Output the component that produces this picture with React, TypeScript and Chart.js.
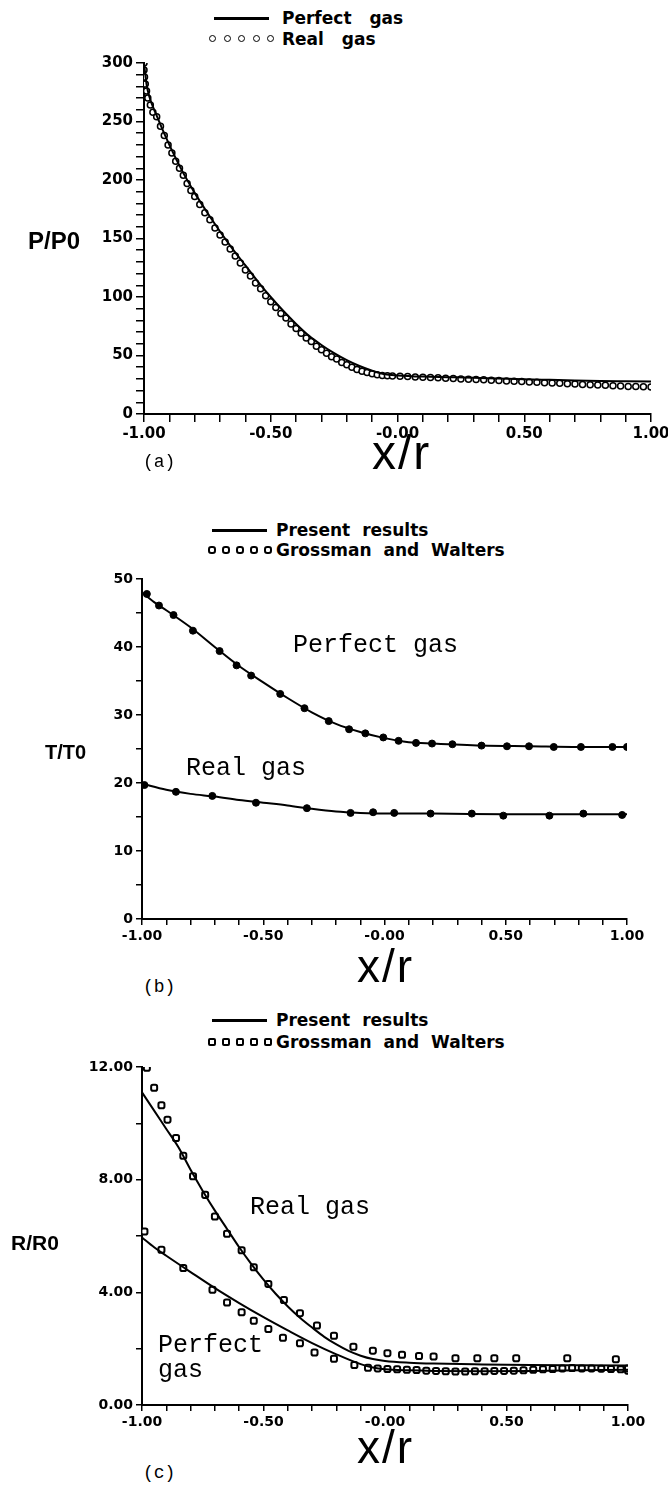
import React, { useEffect, useRef } from "react";
import { Chart, registerables } from "chart.js";

Chart.register(...registerables);

// Shared x axis labels (x/r from -1 to 1)
const xTickLabels = ["-1.00", "-0.50", "-0.00", "0.50", "1.00"];

// (a) Pressure ratio P/P0
const pTickLabels = ["0", "50", "100", "150", "200", "250", "300"];
const pPerfectX = [-1.0, -0.99, -0.98, -0.95, -0.9, -0.85, -0.8, -0.75, -0.7, -0.65, -0.6, -0.55, -0.5, -0.45, -0.4, -0.35, -0.3, -0.25, -0.2, -0.15, -0.1, -0.05, 0.0, 0.1, 0.2, 0.3, 0.4, 0.5, 0.6, 0.7, 0.8, 0.9, 1.0];
const pPerfectY = [300, 282, 272, 255, 230, 208, 189, 172, 156, 141, 127, 113, 100, 88, 77, 67, 59, 52, 46, 41, 37, 34, 33, 32, 31.5, 31, 30.3, 29.7, 29.2, 28.7, 28.3, 28, 27.7];
const pRealX = [-1.0, -1.0, -0.998, -0.995, -0.99, -0.985, -0.975, -0.965, -0.95, -0.935, -0.92, -0.905, -0.89, -0.875, -0.86, -0.845, -0.83, -0.815, -0.8, -0.78, -0.76, -0.74, -0.72, -0.7, -0.68, -0.66, -0.64, -0.62, -0.6, -0.58, -0.56, -0.54, -0.52, -0.5, -0.48, -0.46, -0.44, -0.42, -0.4, -0.38, -0.36, -0.34, -0.32, -0.3, -0.28, -0.26, -0.24, -0.22, -0.2, -0.18, -0.16, -0.14, -0.12, -0.1, -0.08, -0.06, -0.04, -0.02, 0.01, 0.04, 0.07, 0.1, 0.13, 0.16, 0.19, 0.22, 0.25, 0.28, 0.31, 0.34, 0.37, 0.4, 0.43, 0.46, 0.49, 0.52, 0.55, 0.58, 0.61, 0.64, 0.67, 0.7, 0.73, 0.76, 0.79, 0.82, 0.85, 0.88, 0.91, 0.94, 0.97, 1.0];
const pRealY = [300, 294, 288, 282, 276, 270, 264, 258, 254, 246, 238, 230, 223, 216, 210, 204, 197, 191, 186, 179, 172, 166, 159, 153, 147, 141, 135, 129, 123, 118, 112, 107, 101, 96, 91, 86, 82, 77, 73, 69, 65, 62, 58, 55, 52, 49, 47, 44, 42, 40, 38, 36.5, 35.5, 34.5, 33.5, 33, 32.6, 32.4, 32.2, 32, 31.7, 31.4, 31.2, 30.9, 30.6, 30.3, 30, 29.8, 29.5, 29.2, 28.9, 28.6, 28.3, 28, 27.8, 27.4, 27.1, 26.8, 26.5, 26.3, 25.9, 25.6, 25.3, 25, 24.7, 24.5, 24.2, 23.9, 23.6, 23.4, 23.2, 23];

// (b) Temperature ratio T/T0
const tTickLabels = ["0", "10", "20", "30", "40", "50"];
const tPerfectLineX = [-1.0, -0.95, -0.9, -0.8, -0.7, -0.6, -0.5, -0.4, -0.3, -0.2, -0.1, 0.0, 0.1, 0.2, 0.4, 0.6, 0.8, 1.0];
const tPerfectLineY = [48.0, 46.6, 45.4, 42.9, 40.0, 37.2, 34.8, 32.5, 30.4, 28.7, 27.5, 26.6, 26.0, 25.8, 25.5, 25.4, 25.3, 25.3];
const tPerfectRefX = [-0.98, -0.93, -0.87, -0.79, -0.68, -0.61, -0.55, -0.43, -0.33, -0.23, -0.146, -0.079, -0.005, 0.058, 0.13, 0.196, 0.28, 0.4, 0.505, 0.596, 0.698, 0.81, 0.94, 1.0];
const tPerfectRefY = [47.8, 46.1, 44.7, 42.4, 39.4, 37.3, 35.8, 33.1, 31.0, 29.1, 27.9, 27.3, 26.7, 26.2, 25.9, 25.8, 25.7, 25.5, 25.4, 25.4, 25.3, 25.3, 25.3, 25.3];
const tRealLineX = [-1.0, -0.9, -0.8, -0.7, -0.6, -0.5, -0.4, -0.3, -0.2, -0.1, 0.0, 0.2, 0.5, 0.8, 1.0];
const tRealLineY = [19.9, 19.0, 18.4, 18.0, 17.5, 17.1, 16.7, 16.2, 15.8, 15.6, 15.5, 15.5, 15.4, 15.4, 15.4];
const tRealRefX = [-0.99, -0.86, -0.71, -0.53, -0.32, -0.14, -0.047, 0.04, 0.19, 0.36, 0.49, 0.68, 0.82, 0.98];
const tRealRefY = [19.7, 18.7, 18.1, 17.1, 16.3, 15.6, 15.7, 15.6, 15.5, 15.5, 15.2, 15.2, 15.5, 15.3];

// (c) Density ratio R/R0
const rTickLabels = ["0.00", "4.00", "8.00", "12.00"];
const rRealLineX = [-1.0, -0.95, -0.9, -0.85, -0.8, -0.75, -0.7, -0.65, -0.6, -0.55, -0.5, -0.45, -0.4, -0.35, -0.3, -0.25, -0.2, -0.15, -0.1, -0.05, 0.0, 0.1, 0.2, 0.4, 0.6, 0.8, 1.0];
const rRealLineY = [11.1, 10.45, 9.8, 9.15, 8.35, 7.6, 6.9, 6.25, 5.6, 5.0, 4.45, 3.95, 3.5, 3.1, 2.75, 2.42, 2.15, 1.92, 1.75, 1.63, 1.56, 1.5, 1.47, 1.44, 1.42, 1.41, 1.4];
const rRealRefX = [-0.98, -0.95, -0.92, -0.895, -0.86, -0.83, -0.79, -0.74, -0.7, -0.65, -0.59, -0.54, -0.48, -0.416, -0.35, -0.28, -0.21, -0.13, -0.05, 0.01, 0.07, 0.14, 0.2, 0.29, 0.38, 0.45, 0.54, 0.75, 0.95, 1.0];
const rRealRefY = [11.97, 11.26, 10.64, 10.13, 9.48, 8.85, 8.12, 7.46, 6.69, 6.08, 5.49, 4.89, 4.3, 3.73, 3.26, 2.82, 2.46, 2.07, 1.93, 1.84, 1.78, 1.74, 1.72, 1.66, 1.66, 1.66, 1.66, 1.66, 1.62, 1.3];
const rPerfectLineX = [-1.0, -0.95, -0.9, -0.8, -0.7, -0.6, -0.5, -0.4, -0.3, -0.2, -0.1, -0.05, 0.0, 0.1, 0.2, 0.4, 0.6, 0.8, 1.0];
const rPerfectLineY = [5.95, 5.6, 5.3, 4.72, 4.15, 3.62, 3.12, 2.65, 2.2, 1.8, 1.45, 1.33, 1.27, 1.23, 1.21, 1.2, 1.21, 1.23, 1.25];
const rPerfectRefX = [-0.99, -0.92, -0.83, -0.71, -0.65, -0.59, -0.54, -0.48, -0.42, -0.35, -0.29, -0.21, -0.126, -0.07, -0.03, 0.01, 0.05, 0.09, 0.13, 0.17, 0.21, 0.25, 0.29, 0.33, 0.37, 0.41, 0.45, 0.49, 0.53, 0.57, 0.61, 0.65, 0.69, 0.73, 0.77, 0.81, 0.85, 0.89, 0.93, 0.97, 1.0];
const rPerfectRefY = [6.16, 5.51, 4.86, 4.09, 3.64, 3.29, 2.99, 2.7, 2.39, 2.19, 1.86, 1.64, 1.42, 1.32, 1.3, 1.28, 1.27, 1.25, 1.24, 1.22, 1.21, 1.2, 1.19, 1.19, 1.2, 1.2, 1.21, 1.21, 1.22, 1.23, 1.25, 1.27, 1.28, 1.3, 1.31, 1.3, 1.3, 1.29, 1.28, 1.27, 1.22];

const zip = (xs: number[], ys: number[]) => xs.map((x, i) => ({ x, y: ys[i] }));

const TICK_FONT = "'DejaVu Sans', sans-serif";
const LEGEND_FONT = "'DejaVu Sans', sans-serif";
const MONO_FONT = "'Liberation Mono', monospace";
const AXIS_FONT = "'Liberation Sans', Arial, sans-serif";

const lineSet = (xs: number[], ys: number[]) => ({
  data: zip(xs, ys),
  borderColor: "#000",
  borderWidth: 2,
  pointRadius: 0,
  cubicInterpolationMode: "monotone",
  showLine: true,
  fill: false,
});

const markerSet = (xs: number[], ys: number[], style: string, radius: number, fillColor: string, bw: number) => ({
  data: zip(xs, ys),
  showLine: false,
  pointStyle: style,
  pointRadius: radius,
  pointBorderWidth: bw,
  pointBorderColor: "#000",
  pointBackgroundColor: fillColor,
  borderColor: "#000",
  backgroundColor: fillColor,
});

type Plot = { left: number; right: number; top: number; bottom: number };

type PanelProps = {
  top: number;
  height: number;
  plot: Plot;
  yMax: number;
  yStep: number;
  yMajor: number;
  yLabels: string[];
  datasets: any[];
  fontSize: number;
  tickLen: number;
};

function Panel({ top, height, plot, yMax, yStep, yMajor, yLabels, datasets, fontSize, tickLen }: PanelProps) {
  const ref = useRef<HTMLCanvasElement | null>(null);
  useEffect(() => {
    if (!ref.current) return;
    const font = { family: TICK_FONT, size: fontSize, weight: "bold" as const };
    const chart = new Chart(ref.current, {
      type: "line",
      data: { datasets },
      options: {
        animation: false,
        responsive: false,
        events: [],
        layout: { padding: { left: 0, right: 668 - plot.right, top: plot.top - top, bottom: 0 } },
        plugins: { legend: { display: false }, tooltip: { enabled: false } },
        scales: {
          x: {
            type: "linear",
            min: -1,
            max: 1,
            ticks: {
              stepSize: 0.1,
              autoSkip: false,
              maxRotation: 0,
              padding: 3,
              color: "#000",
              font,
              callback: (v: any) => {
                const k = Math.round(Number(v) * 100);
                if (k % 50 !== 0) return "";
                return xTickLabels[(k + 100) / 50];
              },
            },
            grid: { display: true, drawOnChartArea: false, drawTicks: true, tickLength: tickLen, color: "#000", lineWidth: 1.5 },
            border: { display: true, color: "#000", width: 2 },
            afterFit: (s: any) => {
              s.height = top + height - plot.bottom;
              s.paddingLeft = 0;
              s.paddingRight = 0;
            },
          },
          y: {
            type: "linear",
            min: 0,
            max: yMax,
            ticks: {
              stepSize: yStep,
              autoSkip: false,
              padding: 3,
              color: "#000",
              font,
              callback: (v: any) => {
                const n = Number(v);
                const k = Math.round(n / yStep);
                const per = Math.round(yMajor / yStep);
                if (k % per !== 0) return "";
                return yLabels[k / per];
              },
            },
            grid: { display: true, drawOnChartArea: false, drawTicks: true, tickLength: tickLen, color: "#000", lineWidth: 1.5 },
            border: { display: true, color: "#000", width: 2 },
            afterFit: (s: any) => {
              s.width = plot.left;
              s.paddingTop = 0;
              s.paddingBottom = 0;
            },
          },
        },
      } as any,
    });
    return () => chart.destroy();
  }, []);
  return (
    <canvas
      ref={ref}
      width={668}
      height={height}
      style={{ position: "absolute", left: 0, top, width: 668, height }}
    />
  );
}

type TextProps = {
  x: number;
  y: number;
  size: number;
  family: string;
  weight?: string | number;
  ws?: number;
  ls?: number;
  children: React.ReactNode;
};

function Txt({ x, y, size, family, weight = "normal", ws = 0, ls = 0, children }: TextProps) {
  return (
    <div
      style={{
        position: "absolute",
        left: x,
        top: y - size / 2,
        fontSize: size,
        lineHeight: `${size}px`,
        fontFamily: family,
        fontWeight: weight as any,
        wordSpacing: ws,
        letterSpacing: ls,
        whiteSpace: "pre",
        color: "#000",
      }}
    >
      {children}
    </div>
  );
}

function LegendLine({ x, y, w }: { x: number; y: number; w: number }) {
  return <div style={{ position: "absolute", left: x, top: y - 1, width: w, height: 2.5, background: "#000" }} />;
}

function LegendMarks({ x, y, d, gap, radius, bw }: { x: number; y: number; d: number; gap: number; radius: string; bw: number }) {
  const items = [0, 1, 2, 3, 4];
  return (
    <>
      {items.map((i) => (
        <div
          key={i}
          style={{
            position: "absolute",
            left: x + i * gap,
            top: y - d / 2,
            width: d - 2 * bw,
            height: d - 2 * bw,
            border: `${bw}px solid #000`,
            borderRadius: radius,
            background: "#fff",
          }}
        />
      ))}
    </>
  );
}

export default function App() {
  const aDatasets = [lineSet(pPerfectX, pPerfectY), markerSet(pRealX, pRealY, "circle", 3, "#fff", 1.5)];
  const bDatasets = [
    lineSet(tPerfectLineX, tPerfectLineY),
    lineSet(tRealLineX, tRealLineY),
    markerSet(tPerfectRefX, tPerfectRefY, "circle", 3.5, "#000", 1),
    markerSet(tRealRefX, tRealRefY, "circle", 3.5, "#000", 1),
  ];
  const cDatasets = [
    lineSet(rRealLineX, rRealLineY),
    lineSet(rPerfectLineX, rPerfectLineY),
    markerSet(rRealRefX, rRealRefY, "rectRounded", 3.5, "#fff", 2),
    markerSet(rPerfectRefX, rPerfectRefY, "rectRounded", 3.5, "#fff", 2),
  ];

  return (
    <div style={{ position: "absolute", left: 0, top: 0, width: 668, height: 1487, overflow: "hidden", background: "#fff" }}>
      {/* (a) */}
      <LegendLine x={214} y={18} w={55} />
      <Txt x={282} y={18} size={17} family={LEGEND_FONT} weight="bold" ws={12}>Perfect gas</Txt>
      <LegendMarks x={209} y={39} d={8} gap={14.5} radius="50%" bw={1.5} />
      <Txt x={282} y={39} size={17} family={LEGEND_FONT} weight="bold" ws={12}>Real gas</Txt>
      <Panel
        top={40}
        height={420}
        plot={{ left: 144, right: 651, top: 63, bottom: 414 }}
        yMax={300}
        yStep={10}
        yMajor={50}
        yLabels={pTickLabels}
        datasets={aDatasets}
        fontSize={15}
        tickLen={8}
      />
      <Txt x={28} y={241} size={24} family={AXIS_FONT} weight="bold">P/P0</Txt>
      <Txt x={372} y={453} size={48} family={AXIS_FONT} ls={2}>x/r</Txt>
      <Txt x={143} y={462} size={18} family={MONO_FONT}>(a)</Txt>

      {/* (b) */}
      <LegendLine x={212} y={530} w={55} />
      <Txt x={276} y={530} size={17} family={LEGEND_FONT} weight="bold" ws={6}>Present results</Txt>
      <LegendMarks x={208} y={550} d={8} gap={14} radius="40%" bw={2} />
      <Txt x={276} y={550} size={17} family={LEGEND_FONT} weight="bold" ws={6}>Grossman and Walters</Txt>
      <Panel
        top={560}
        height={400}
        plot={{ left: 142, right: 627, top: 579, bottom: 919 }}
        yMax={50}
        yStep={5}
        yMajor={10}
        yLabels={tTickLabels}
        datasets={bDatasets}
        fontSize={14}
        tickLen={6}
      />
      <Txt x={45} y={752} size={20} family={AXIS_FONT} weight="bold">T/T0</Txt>
      <Txt x={293} y={645} size={25} family={MONO_FONT}>Perfect gas</Txt>
      <Txt x={186} y={768} size={25} family={MONO_FONT}>Real gas</Txt>
      <Txt x={357} y={966} size={46} family={AXIS_FONT} ls={2}>x/r</Txt>
      <Txt x={143} y={987} size={18} family={MONO_FONT}>(b)</Txt>

      {/* (c) */}
      <LegendLine x={212} y={1020} w={55} />
      <Txt x={276} y={1020} size={17} family={LEGEND_FONT} weight="bold" ws={6}>Present results</Txt>
      <LegendMarks x={208} y={1042} d={8} gap={14} radius="25%" bw={2} />
      <Txt x={276} y={1042} size={17} family={LEGEND_FONT} weight="bold" ws={6}>Grossman and Walters</Txt>
      <Panel
        top={1050}
        height={400}
        plot={{ left: 142, right: 628, top: 1067, bottom: 1405 }}
        yMax={12}
        yStep={2}
        yMajor={4}
        yLabels={rTickLabels}
        datasets={cDatasets}
        fontSize={14}
        tickLen={6}
      />
      <Txt x={11} y={1242} size={21} family={AXIS_FONT} weight="bold">R/R0</Txt>
      <Txt x={250} y={1207} size={25} family={MONO_FONT}>Real gas</Txt>
      <Txt x={158} y={1345} size={25} family={MONO_FONT}>Perfect</Txt>
      <Txt x={158} y={1370} size={25} family={MONO_FONT}>gas</Txt>
      <Txt x={357} y={1447} size={46} family={AXIS_FONT} ls={2}>x/r</Txt>
      <Txt x={143} y={1473} size={18} family={MONO_FONT}>(c)</Txt>
    </div>
  );
}
